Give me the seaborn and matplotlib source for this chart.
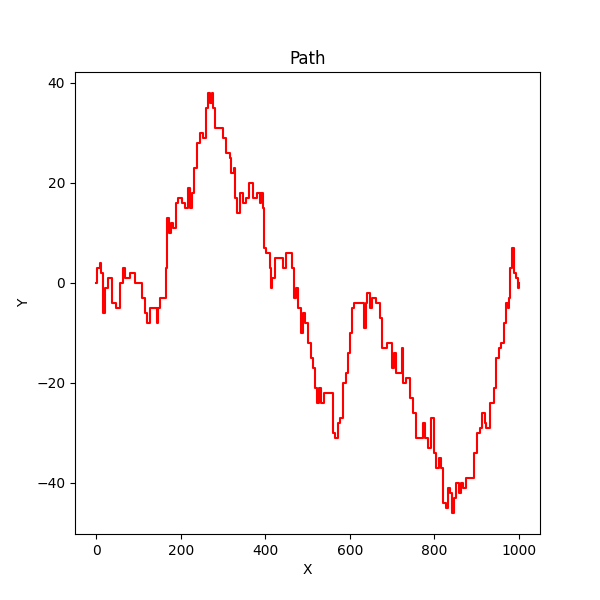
import matplotlib
matplotlib.use("Agg")
import matplotlib.pyplot as plt
import seaborn as sns

# path vertices (x, y)
xs = [0, 3, 8, 12, 17, 22, 28, 38, 47, 57, 64, 68, 80, 92, 100, 108, 116, 121, 127, 134, 144, 147,
      152, 160, 165, 168, 172, 177, 182, 189, 194, 203, 210, 217, 222, 227, 232, 239, 246, 253,
      260, 265, 270, 274, 277, 282, 292, 300, 307, 317, 320, 325, 329, 333, 340, 347, 355, 362,
      370, 380, 387, 390, 395, 397, 402, 411, 414, 416, 423, 437, 442, 449, 458, 463, 468, 473,
      478, 485, 489, 494, 501, 508, 513, 518, 522, 527, 532, 539, 553, 560, 565, 572, 577, 584,
      591, 596, 600, 605, 610, 625, 634, 638, 641, 648, 653, 662, 671, 676, 688, 695, 700, 705,
      709, 723, 726, 733, 742, 749, 757, 766, 773, 778, 785, 792, 799, 804, 811, 816, 820, 827,
      832, 837, 842, 846, 851, 858, 863, 868, 875, 889, 894, 901, 908, 913, 920, 922, 931, 941,
      946, 953, 957, 965, 969, 974, 976, 979, 983, 988, 993, 998, 1000]
ys = [0, 3, 4, 2, -6, -1, 1, -4, -5, 0, 3, 1, 2, 0, 0, -3, -6, -8, -5, -5, -8, -5,
      -3, -3, 3, 13, 10, 12, 11, 16, 17, 16, 15, 19, 15, 18, 23, 28, 30, 29,
      35, 38, 36, 38, 35, 31, 31, 29, 26, 25, 22, 23, 17, 14, 18, 16, 17, 20,
      17, 18, 16, 18, 15, 7, 6, 3, -1, 1, 5, 5, 3, 6, 6, 3, -3, -1,
      -5, -10, -6, -8, -12, -15, -17, -21, -24, -21, -24, -22, -22, -30, -31, -28, -27, -20,
      -18, -14, -10, -5, -4, -4, -9, -4, -2, -5, -3, -4, -7, -13, -12, -12, -17, -14,
      -18, -13, -20, -19, -23, -26, -31, -31, -28, -31, -33, -27, -34, -37, -35, -37, -44, -45,
      -41, -42, -46, -43, -40, -42, -40, -41, -39, -39, -34, -30, -29, -26, -28, -29, -24, -21,
      -15, -13, -12, -8, -4, -5, -3, 3, 7, 2, 1, -1, 0]

fig, ax = plt.subplots(figsize=(6, 6), dpi=100)
sns.lineplot(x=xs, y=ys, sort=False, estimator=None, drawstyle="steps-post",
             color="red", linewidth=1.5, ax=ax)
ax.set_title("Path")
ax.set_xlabel("X")
ax.set_ylabel("Y")
fig.savefig("out.png")
